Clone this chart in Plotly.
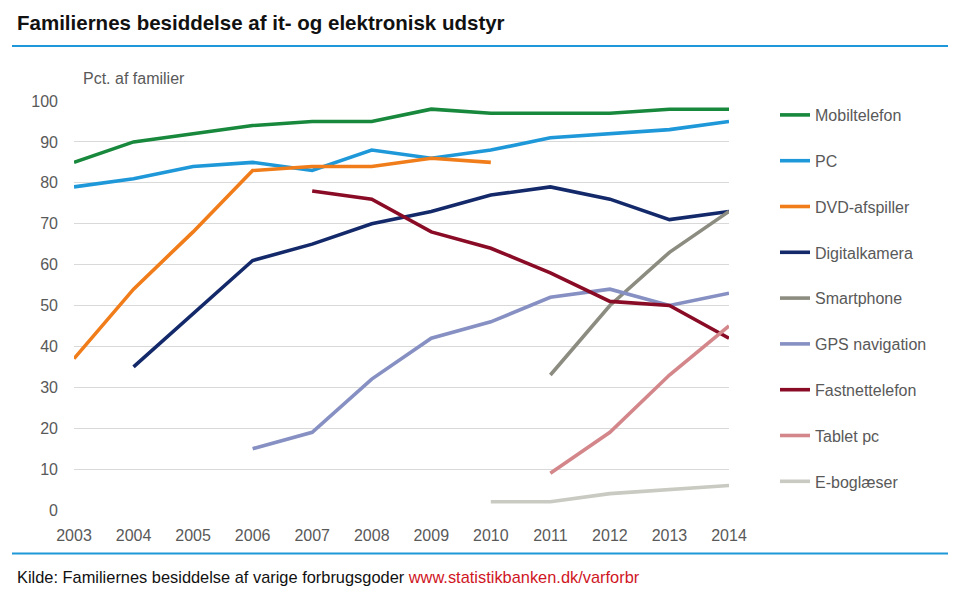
import plotly.graph_objects as go

years = list(range(2003, 2015))

mobiltelefon = [85, 90, 92, 94, 95, 95, 98, 97, 97, 97, 98, 98]
pc = [79, 81, 84, 85, 83, 88, 86, 88, 91, 92, 93, 95]
dvd = [37, 54, 68, 83, 84, 84, 86, 85, None, None, None, None]
digitalkamera = [None, 35, 48, 61, 65, 70, 73, 77, 79, 76, 71, 73]
smartphone = [None, None, None, None, None, None, None, None, 33, 50, 63, 73]
gps = [None, None, None, 15, 19, 32, 42, 46, 52, 54, 50, 53]
fastnet = [None, None, None, None, 78, 76, 68, 64, 58, 51, 50, 42]
tablet = [None, None, None, None, None, None, None, None, 9, 19, 33, 45]
ebog = [None, None, None, None, None, None, None, 2, 2, 4, 5, 6]

series = [
    ("Mobiltelefon", mobiltelefon, "#17883c"),
    ("PC", pc, "#1e98d8"),
    ("DVD-afspiller", dvd, "#f07d1a"),
    ("Digitalkamera", digitalkamera, "#13296a"),
    ("Smartphone", smartphone, "#8c8c80"),
    ("GPS navigation", gps, "#8790c2"),
    ("Fastnettelefon", fastnet, "#8a0b25"),
    ("Tablet pc", tablet, "#d4878b"),
    ("E-boglæser", ebog, "#c9cac1"),
]

y_ticks = list(range(0, 101, 10))

fig = go.Figure()
for i, (name, vals, col) in enumerate(series):
    fig.add_trace(go.Scatter(
        x=years, y=vals, name=name, mode="lines",
        line=dict(color=col, width=3.6),
        legendgroup=f"g{i}",
        connectgaps=False,
    ))

font_main = "Liberation Sans, Arial, sans-serif"
gray = "#595959"

# plot area in reference pixels: x 74..729, y 101..509.5
PL, PW, PB, PH = 74, 655, 509.5, 408.5


def px(x):
    return (x - PL) / PW


def py(y):
    return (PB - y) / PH


fig.update_layout(
    width=960, height=597,
    margin=dict(l=66, r=239, t=93, b=95),
    paper_bgcolor="white", plot_bgcolor="white",
    font=dict(family=font_main, size=16, color=gray),
    showlegend=True,
    legend=dict(
        x=px(775), xanchor="left", y=py(98), yanchor="top",
        font=dict(family=font_main, size=16, color=gray),
        tracegroupgap=22,
        maxheight=700,
        bgcolor="rgba(0,0,0,0)",
    ),
    xaxis=dict(
        range=[2003, 2014], tickmode="array", tickvals=years,
        ticktext=[str(y) for y in years],
        showgrid=False, zeroline=False, showline=False,
        ticks="", ticklabelstandoff=14,
        tickfont=dict(family=font_main, size=16, color=gray),
    ),
    yaxis=dict(
        range=[0, 100], tickmode="array", tickvals=y_ticks,
        showgrid=True, gridcolor="#d9d9d9", gridwidth=1,
        zeroline=False, showline=False, ticks="",
        ticklabelstandoff=15,
        tickfont=dict(family=font_main, size=16, color=gray),
    ),
    shapes=[
        dict(type="line", xref="paper", yref="paper",
             x0=px(12), x1=px(948), y0=py(46), y1=py(46),
             line=dict(color="#1e98d8", width=2)),
        dict(type="line", xref="paper", yref="paper",
             x0=px(12), x1=px(948), y0=py(553), y1=py(553),
             line=dict(color="#1e98d8", width=2)),
    ],
    annotations=[
        dict(text="<b>Familiernes besiddelse af it- og elektronisk udstyr</b>",
             xref="paper", yref="paper", x=px(15), y=py(23),
             xanchor="left", yanchor="middle", showarrow=False,
             font=dict(family="Liberation Sans Narrow, Liberation Sans, Arial",
                       size=20.5, color="#111111")),
        dict(text="Pct. af familier",
             xref="paper", yref="paper", x=px(81), y=py(79),
             xanchor="left", yanchor="middle", showarrow=False,
             font=dict(family=font_main, size=16, color=gray)),
        dict(text="Kilde: Familiernes besiddelse af varige forbrugsgoder "
                  "<span style='color:#d0161f'>www.statistikbanken.dk/varforbr</span>",
             xref="paper", yref="paper", x=px(15), y=py(576),
             xanchor="left", yanchor="middle", showarrow=False,
             font=dict(family="Liberation Sans Narrow, Liberation Sans, Arial",
                       size=16.4, color="#111111")),
    ],
)

fig.write_html("out.html")
